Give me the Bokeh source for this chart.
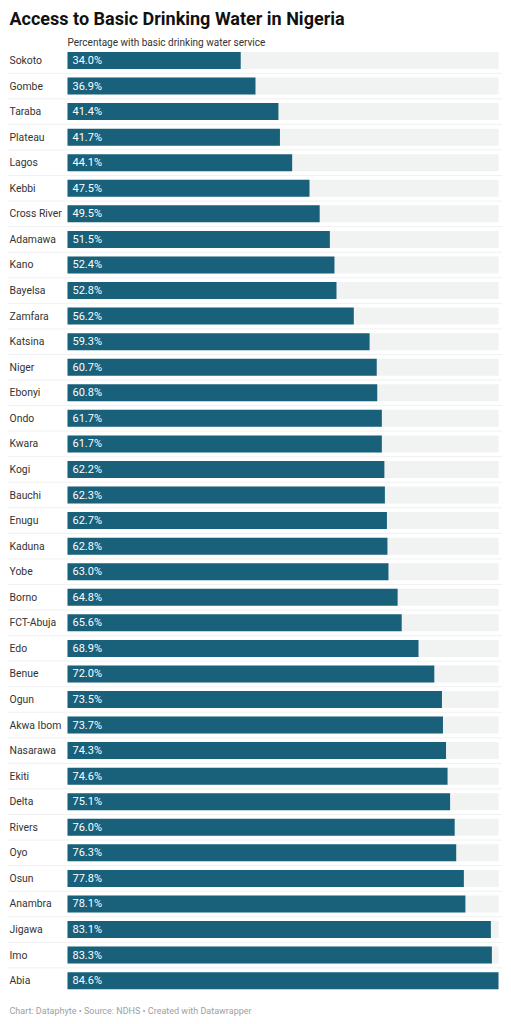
from bokeh.plotting import figure
from bokeh.models import Range1d, ColumnDataSource, Label
from bokeh.embed import file_html
from bokeh.resources import INLINE
from bokeh.core.properties import value

states = ["Sokoto", "Gombe", "Taraba", "Plateau", "Lagos", "Kebbi", "Cross River",
          "Adamawa", "Kano", "Bayelsa", "Zamfara", "Katsina", "Niger", "Ebonyi",
          "Ondo", "Kwara", "Kogi", "Bauchi", "Enugu", "Kaduna", "Yobe", "Borno",
          "FCT-Abuja", "Edo", "Benue", "Ogun", "Akwa Ibom", "Nasarawa", "Ekiti",
          "Delta", "Rivers", "Oyo", "Osun", "Anambra", "Jigawa", "Imo", "Abia"]
values = [34.0, 36.9, 41.4, 41.7, 44.1, 47.5, 49.5, 51.5, 52.4, 52.8, 56.2, 59.3,
          60.7, 60.8, 61.7, 61.7, 62.2, 62.3, 62.7, 62.8, 63.0, 64.8, 65.6, 68.9,
          72.0, 73.5, 73.7, 74.3, 74.6, 75.1, 76.0, 76.3, 77.8, 78.1, 83.1, 83.3, 84.6]
labels = ["%.1f%%" % v for v in values]

W, H = 503, 1016
FONT = "Roboto"
vmax = max(values)
n = len(states)

# pixel layout (figure coordinates)
bar_left_px = 67.0
bar_right_px = 498.0
first_row_px = 60.0
row_step_px = 25.56

k = (bar_right_px - bar_left_px) / vmax
x0 = -bar_left_px / k
x1 = x0 + W / k
y_top = -first_row_px / row_step_px
y_bot = y_top + H / row_step_px

p = figure(width=W, height=H, output_backend="svg", toolbar_location=None,
           x_range=Range1d(x0, x1), y_range=Range1d(y_bot, y_top),
           min_border=0, min_border_left=0, min_border_right=0,
           min_border_top=0, min_border_bottom=0)
p.axis.visible = False
p.grid.visible = False
p.outline_line_color = None
p.background_fill_color = "white"
p.border_fill_color = "white"

rows = list(range(n))
src = ColumnDataSource(dict(y=rows, v=values, state=states, lab=labels,
                            full=[vmax] * n, zero=[0] * n))

bh = 17.0 / row_step_px
p.hbar(y="y", left="zero", right="full", height=bh, source=src,
       fill_color="#f1f2f2", line_color=None)
p.hbar(y="y", left="zero", right="v", height=bh, source=src,
       fill_color="#19607a", line_color=None)

# separators
sep_l = x0 + 8 / k
sep_r = vmax + 4 / k
ys = [r + 0.5 for r in rows[:-1]]
p.segment(x0=[sep_l] * (n - 1), x1=[sep_r] * (n - 1), y0=ys, y1=ys,
          line_color="#e2e2e2", line_width=1, line_dash="1 1")

p.text(x=x0 + 9 / k, y="y", text="state", source=src, text_font=value(FONT),
       text_font_size="10.4px", text_color="#333333", text_baseline="middle")
p.text(x=5 / k, y="y", text="lab", source=src, text_font=value(FONT),
       text_font_size="11px", text_color="white", text_baseline="middle")

p.add_layout(Label(x=9, y=H - 18, x_units="screen", y_units="screen",
                   text="Access to Basic Drinking Water in Nigeria",
                   text_font=FONT, text_font_size="18px", text_font_style="bold",
                   text_color="#111111", text_baseline="middle"))
p.add_layout(Label(x=bar_left_px, y=H - 42, x_units="screen", y_units="screen",
                   text="Percentage with basic drinking water service",
                   text_font=FONT, text_font_size="10px", text_color="#333333",
                   text_baseline="middle"))
p.add_layout(Label(x=9, y=H - 1010, x_units="screen", y_units="screen",
                   text="Chart: Dataphyte \u2022 Source: NDHS \u2022 Created with Datawrapper",
                   text_font=FONT, text_font_size="9px", text_color="#a0a0a0",
                   text_baseline="middle"))

open("out.html", "w").write(file_html(p, INLINE))
